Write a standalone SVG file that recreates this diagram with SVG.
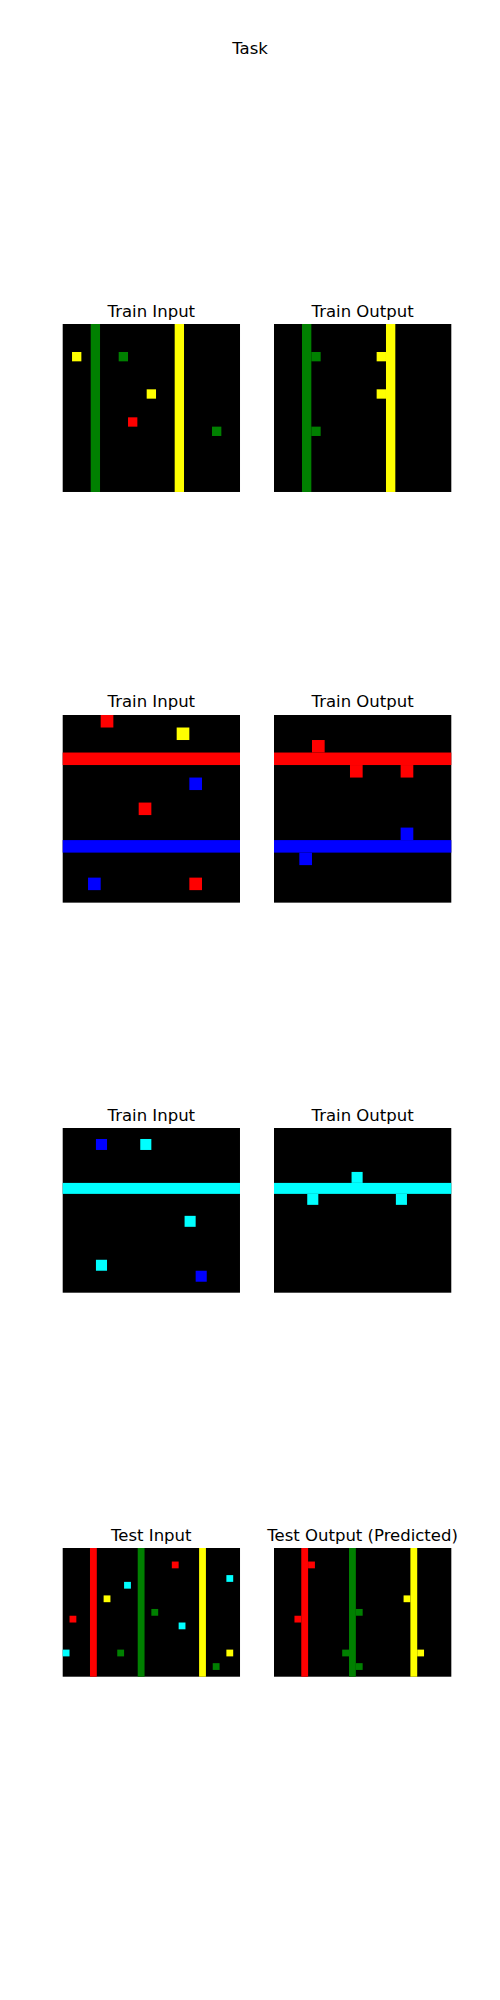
<svg xmlns="http://www.w3.org/2000/svg" width="500" height="2000" viewBox="0 0 500 2000">
<style>
text{font-family:"DejaVu Sans","Liberation Sans",sans-serif;font-size:16.5px;fill:#000;text-anchor:middle}
.bg{fill:#000}
.g{fill:#008000}
.y{fill:#ffff00}
.r{fill:#ff0000}
.b{fill:#0000ff}
.c{fill:#00ffff}
</style>
<rect width="500" height="2000" fill="#fff"/>
<text x="250" y="54">Task</text>

<g id="p1-input">
<text x="151.3" y="316.7">Train Input</text>
<g transform="translate(62.7,324) scale(9.332,9.332)">
<rect class="bg" width="19" height="18"/>
<rect class="g" x="3" y="0" width="1" height="18"/>
<rect class="y" x="12" y="0" width="1" height="18"/>
<rect class="y" x="1" y="3" width="1" height="1"/>
<rect class="g" x="6" y="3" width="1" height="1"/>
<rect class="y" x="9" y="7" width="1" height="1"/>
<rect class="r" x="7" y="10" width="1" height="1"/>
<rect class="g" x="16" y="11" width="1" height="1"/>
</g>
</g>
<g id="p1-output">
<text x="362.6" y="316.7">Train Output</text>
<g transform="translate(274,324) scale(9.332,9.332)">
<rect class="bg" width="19" height="18"/>
<rect class="g" x="3" y="0" width="1" height="18"/>
<rect class="y" x="12" y="0" width="1" height="18"/>
<rect class="g" x="4" y="3" width="1" height="1"/>
<rect class="g" x="4" y="11" width="1" height="1"/>
<rect class="y" x="11" y="3" width="1" height="1"/>
<rect class="y" x="11" y="7" width="1" height="1"/>
</g>
</g>

<g id="p2-input">
<text x="151.3" y="707.3">Train Input</text>
<g transform="translate(62.7,715) scale(12.664,12.51)">
<rect class="bg" width="14" height="15"/>
<rect class="r" x="0" y="3" width="14" height="1"/>
<rect class="b" x="0" y="10" width="14" height="1"/>
<rect class="r" x="3" y="0" width="1" height="1"/>
<rect class="y" x="9" y="1" width="1" height="1"/>
<rect class="b" x="10" y="5" width="1" height="1"/>
<rect class="r" x="6" y="7" width="1" height="1"/>
<rect class="b" x="2" y="13" width="1" height="1"/>
<rect class="r" x="10" y="13" width="1" height="1"/>
</g>
</g>
<g id="p2-output">
<text x="362.6" y="707.3">Train Output</text>
<g transform="translate(274,715) scale(12.664,12.51)">
<rect class="bg" width="14" height="15"/>
<rect class="r" x="0" y="3" width="14" height="1"/>
<rect class="b" x="0" y="10" width="14" height="1"/>
<rect class="r" x="3" y="2" width="1" height="1"/>
<rect class="r" x="6" y="4" width="1" height="1"/>
<rect class="r" x="10" y="4" width="1" height="1"/>
<rect class="b" x="10" y="9" width="1" height="1"/>
<rect class="b" x="2" y="11" width="1" height="1"/>
</g>
</g>

<g id="p3-input">
<text x="151.3" y="1120.7">Train Input</text>
<g transform="translate(62.7,1128) scale(11.08,10.98)">
<rect class="bg" width="16" height="15"/>
<rect class="c" x="0" y="5" width="16" height="1"/>
<rect class="b" x="3" y="1" width="1" height="1"/>
<rect class="c" x="7" y="1" width="1" height="1"/>
<rect class="c" x="11" y="8" width="1" height="1"/>
<rect class="c" x="3" y="12" width="1" height="1"/>
<rect class="b" x="12" y="13" width="1" height="1"/>
</g>
</g>
<g id="p3-output">
<text x="362.6" y="1120.7">Train Output</text>
<g transform="translate(274,1128) scale(11.08,10.98)">
<rect class="bg" width="16" height="15"/>
<rect class="c" x="0" y="5" width="16" height="1"/>
<rect class="c" x="7" y="4" width="1" height="1"/>
<rect class="c" x="3" y="6" width="1" height="1"/>
<rect class="c" x="11" y="6" width="1" height="1"/>
</g>
</g>

<g id="p4-input">
<text x="151.3" y="1540.7">Test Input</text>
<g transform="translate(62.7,1548) scale(6.82,6.774)">
<rect class="bg" width="26" height="19"/>
<rect class="r" x="4" y="0" width="1" height="19"/>
<rect class="g" x="11" y="0" width="1" height="19"/>
<rect class="y" x="20" y="0" width="1" height="19"/>
<rect class="r" x="16" y="2" width="1" height="1"/>
<rect class="c" x="24" y="4" width="1" height="1"/>
<rect class="c" x="9" y="5" width="1" height="1"/>
<rect class="y" x="6" y="7" width="1" height="1"/>
<rect class="g" x="13" y="9" width="1" height="1"/>
<rect class="r" x="1" y="10" width="1" height="1"/>
<rect class="c" x="17" y="11" width="1" height="1"/>
<rect class="c" x="0" y="15" width="1" height="1"/>
<rect class="g" x="8" y="15" width="1" height="1"/>
<rect class="y" x="24" y="15" width="1" height="1"/>
<rect class="g" x="22" y="17" width="1" height="1"/>
</g>
</g>
<g id="p4-output">
<text x="362.6" y="1540.7">Test Output (Predicted)</text>
<g transform="translate(274,1548) scale(6.82,6.774)">
<rect class="bg" width="26" height="19"/>
<rect class="r" x="4" y="0" width="1" height="19"/>
<rect class="g" x="11" y="0" width="1" height="19"/>
<rect class="y" x="20" y="0" width="1" height="19"/>
<rect class="r" x="5" y="2" width="1" height="1"/>
<rect class="r" x="3" y="10" width="1" height="1"/>
<rect class="g" x="12" y="9" width="1" height="1"/>
<rect class="g" x="10" y="15" width="1" height="1"/>
<rect class="g" x="12" y="17" width="1" height="1"/>
<rect class="y" x="19" y="7" width="1" height="1"/>
<rect class="y" x="21" y="15" width="1" height="1"/>
</g>
</g>
</svg>
